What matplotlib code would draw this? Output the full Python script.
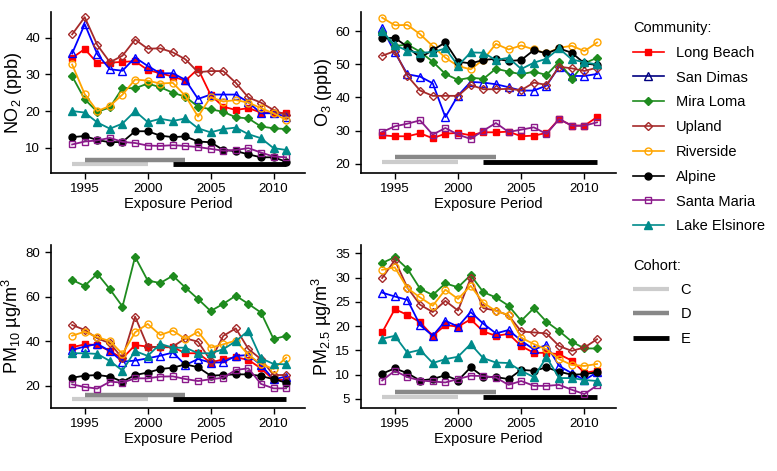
import matplotlib.pyplot as plt
from matplotlib.lines import Line2D

plt.rcParams['font.family'] = ['Liberation Sans', 'DejaVu Sans']
plt.rcParams['mathtext.default'] = 'regular'

years = list(range(1994, 2012))
communities = ["Long Beach", "San Dimas", "Mira Loma", "Upland",
               "Riverside", "Alpine", "Santa Maria", "Lake Elsinore"]

# NO2 (ppb)
no2 = {
    "Long Beach":    [34.5, 36.9, 33.1, 33.2, 33.4, 33.6, 31.2, 30.3, 29.4, 28.3, 31.5, 24.4, 21.2, 20.3, 20.8, 19.6, 19.6, 19.4],
    "San Dimas":     [35.7, 43.7, 35.5, 31.4, 31.0, 34.6, 32.3, 30.3, 30.3, 28.5, 23.3, 24.5, 24.5, 24.5, 22.4, 19.4, 19.4, 18.5],
    "Mira Loma":     [29.5, 23.2, 19.8, 21.0, 26.3, 26.2, 27.5, 26.5, 25.0, 23.9, 21.2, 20.5, 19.8, 18.3, 18.0, 15.8, 15.3, 15.1],
    "Upland":        [40.9, 45.6, 38.0, 33.3, 35.1, 39.5, 37.0, 37.1, 36.0, 34.1, 30.6, 30.9, 30.9, 27.7, 23.7, 22.3, 20.3, 18.9],
    "Riverside":     [32.7, 24.6, 20.0, 21.4, 24.5, 28.6, 28.3, 27.5, 27.7, 24.1, 18.5, 23.8, 22.6, 23.0, 22.3, 20.8, 19.4, 17.6],
    "Alpine":        [12.9, 13.2, 12.1, 11.5, 11.6, 14.5, 14.5, 13.3, 12.9, 13.1, 11.7, 11.5, 9.4, 9.1, 8.2, 7.4, 7.4, 6.2],
    "Santa Maria":   [10.9, 11.7, 12.0, 12.7, 11.6, 11.3, 10.6, 10.5, 10.7, 10.5, 10.2, 9.7, 9.2, 9.4, 9.9, 8.7, 7.6, 7.4],
    "Lake Elsinore": [20.0, 19.6, 16.9, 15.2, 16.6, 20.0, 17.0, 17.9, 17.3, 18.0, 15.3, 14.2, 15.1, 15.5, 13.7, 12.6, 9.9, 9.4],
}

# O3 (ppb)
o3 = {
    "Long Beach":    [28.6, 28.3, 28.3, 29.2, 27.7, 29.1, 29.3, 28.6, 29.5, 29.5, 29.7, 28.3, 28.5, 29.3, 33.5, 31.5, 31.5, 34.1],
    "San Dimas":     [61.0, 53.6, 47.0, 46.3, 44.3, 34.1, 40.6, 44.7, 44.5, 44.0, 43.1, 42.1, 42.1, 43.6, 49.3, 46.5, 46.5, 47.1],
    "Mira Loma":     [59.6, 55.5, 56.0, 53.8, 50.8, 47.1, 45.3, 46.0, 45.6, 48.7, 47.8, 47.0, 47.8, 46.8, 50.8, 45.6, 50.3, 52.0],
    "Upland":        [52.6, 54.0, 46.5, 42.1, 40.5, 40.5, 40.5, 43.8, 42.5, 42.5, 42.6, 42.2, 44.5, 43.8, 49.3, 48.8, 48.0, 49.0],
    "Riverside":     [64.1, 61.8, 61.9, 59.1, 55.5, 52.0, 49.5, 48.5, 51.4, 56.2, 54.5, 55.7, 54.5, 53.3, 55.0, 55.6, 54.0, 56.6],
    "Alpine":        [57.9, 58.0, 55.3, 52.0, 54.3, 56.6, 50.8, 50.3, 51.3, 51.7, 51.0, 51.3, 54.3, 53.3, 54.8, 53.5, 50.3, 49.8],
    "Santa Maria":   [29.6, 31.3, 32.1, 33.1, 28.8, 30.8, 28.8, 27.5, 30.0, 32.3, 29.6, 30.3, 31.0, 29.0, 33.5, 31.5, 31.5, 32.5],
    "Lake Elsinore": [60.0, 55.8, 54.1, 53.5, 53.7, 54.8, 49.6, 53.6, 53.5, 51.3, 52.0, 48.6, 50.5, 51.7, 54.8, 51.5, 50.6, 50.0],
}

# PM10 (ug/m3)
pm10 = {
    "Long Beach":    [37.3, 38.6, 38.3, 35.6, 32.3, 38.3, 37.6, 37.3, 37.3, 34.6, 34.6, 30.4, 31.9, 32.8, 31.6, 27.8, 22.6, 22.6],
    "San Dimas":     [36.1, 37.6, 38.8, 35.6, 30.8, 31.3, 32.3, 33.5, 34.9, 29.3, 32.0, 30.4, 30.5, 33.4, 33.8, 29.3, 22.9, 24.1],
    "Mira Loma":     [67.6, 64.9, 70.4, 63.4, 55.6, 78.0, 67.3, 66.2, 69.5, 64.1, 59.0, 53.6, 56.8, 60.5, 56.8, 52.9, 41.0, 42.4],
    "Upland":        [47.3, 45.1, 41.3, 39.1, 32.3, 51.1, 37.6, 37.3, 37.6, 41.3, 39.8, 31.3, 42.4, 45.8, 36.5, 31.9, 24.8, 24.8],
    "Riverside":     [42.5, 44.3, 41.8, 40.1, 34.3, 44.0, 47.8, 42.8, 44.8, 41.0, 44.3, 37.1, 38.6, 40.3, 33.8, 29.8, 27.5, 32.6],
    "Alpine":        [23.6, 24.5, 24.8, 24.1, 21.8, 24.8, 25.9, 27.5, 28.1, 29.6, 28.3, 24.5, 24.8, 25.1, 25.1, 24.4, 22.9, 21.4],
    "Santa Maria":   [20.6, 19.4, 18.7, 21.8, 21.4, 23.3, 23.3, 24.1, 24.2, 23.0, 22.1, 22.9, 23.6, 27.1, 27.8, 20.8, 18.8, 18.8],
    "Lake Elsinore": [34.6, 34.6, 34.3, 31.1, 26.8, 35.6, 33.4, 38.8, 37.1, 37.1, 34.6, 34.6, 36.4, 40.0, 44.8, 32.3, 29.8, 29.6],
}

# PM2.5 (ug/m3)
pm25 = {
    "Long Beach":    [18.7, 23.5, 22.3, 20.8, 18.0, 20.2, 19.9, 21.4, 18.9, 18.0, 18.4, 15.9, 14.5, 14.5, 14.2, 12.9, 10.4, 10.8],
    "San Dimas":     [26.9, 26.1, 25.4, 20.2, 18.0, 21.1, 19.9, 22.9, 20.5, 18.5, 19.2, 17.0, 15.2, 16.1, 11.8, 10.3, 8.9, 10.5],
    "Mira Loma":     [33.0, 34.2, 31.8, 27.7, 26.4, 28.8, 28.0, 30.5, 27.0, 25.9, 24.2, 21.1, 23.7, 20.9, 19.0, 16.8, 15.4, 15.4],
    "Upland":        [29.9, 33.6, 27.9, 24.4, 22.9, 25.2, 23.2, 29.9, 23.7, 23.2, 22.2, 18.9, 18.7, 18.5, 15.9, 14.9, 15.6, 17.3],
    "Riverside":     [31.6, 32.1, 27.8, 25.9, 24.2, 27.5, 25.6, 28.3, 24.8, 23.1, 22.3, 17.6, 16.3, 15.2, 13.2, 12.0, 11.8, 12.2],
    "Alpine":        [10.2, 11.3, 10.3, 8.8, 9.1, 9.9, 8.8, 11.5, 9.6, 9.5, 9.1, 11.0, 10.8, 11.5, 10.6, 10.0, 10.1, 10.5],
    "Santa Maria":   [8.8, 10.8, 9.5, 8.8, 8.6, 8.4, 9.1, 9.8, 9.7, 9.4, 7.9, 8.7, 7.7, 7.7, 7.9, 6.9, 6.0, 7.8],
    "Lake Elsinore": [17.4, 18.0, 14.5, 15.1, 12.4, 13.2, 13.7, 16.3, 13.4, 12.5, 12.4, 10.8, 9.5, 13.6, 9.3, 9.3, 8.9, 8.7],
}

# cohort exposure windows
cohorts = ["C", "D", "E"]
cohort_start = [1994, 1995, 2002]
cohort_end = [2000, 2003, 2011]

# styling
colors = ['#FF0000', '#0000FF', '#1E8B1E', '#A52A2A', '#FFA500', '#000000', '#8B1A8B', '#008B8B']
legend_colors = ['#FF0000', '#000080', '#1E8B1E', '#A52A2A', '#FFA500', '#000000', '#8B1A8B', '#008B8B']
markers = ['s', '^', 'D', 'D', 'o', 'o', 's', '^']
filled = [True, False, True, False, False, True, False, True]
msizes = [5, 5.5, 4.2, 4.2, 5, 5, 5, 5.5]
cohort_colors = ['#CCCCCC', '#888888', '#000000']
cohort_lw = [3.0, 3.2, 3.5]

panels = [
    (no2, "NO$_2$ (ppb)", [10, 20, 30, 40], (3.2, 47), [5.6, 6.7, 5.6], [0.0653, 0.6333, 0.3273, 0.3412]),
    (o3, "O$_3$ (ppb)", [20, 30, 40, 50, 60], (17.3, 65.8), [20.5, 22.1, 20.5], [0.4642, 0.6333, 0.3286, 0.3412]),
    (pm10, "PM$_{10}$ µg/m$^3$", [20, 40, 60, 80], (10.1, 83.3), [14.0, 15.8, 14.0], [0.0653, 0.1344, 0.3273, 0.3454]),
    (pm25, "PM$_{2.5}$ µg/m$^3$", [5, 10, 15, 20, 25, 30, 35], (3.2, 36.7), [5.4, 6.4, 5.4], [0.4642, 0.1344, 0.3286, 0.3454]),
]

fig = plt.figure(figsize=(7.77, 4.71), dpi=100)

for data, ylabel, yticks, ylim, levels, rect in panels:
    ax = fig.add_axes(rect)
    for i, name in enumerate(cohorts):
        ax.plot([cohort_start[i], cohort_end[i]], [levels[i], levels[i]],
                color=cohort_colors[i], lw=cohort_lw[i], solid_capstyle='butt', zorder=1)
    for i, name in enumerate(communities):
        ax.plot(years, data[name], color=colors[i], lw=1.3, marker=markers[i],
                ms=msizes[i], mec=colors[i], mew=1.0,
                mfc=colors[i] if filled[i] else 'none', zorder=2)
    ax.set_xlim(1992.3, 2012.5)
    ax.set_ylim(*ylim)
    ax.set_xticks([1995, 2000, 2005, 2010])
    ax.set_yticks(yticks)
    ax.spines['top'].set_visible(False)
    ax.spines['right'].set_visible(False)
    ax.spines['left'].set_linewidth(1.2)
    ax.spines['bottom'].set_linewidth(1.2)
    ax.tick_params(labelsize=9.5, length=4, width=1.0, direction='out')
    ax.set_xlabel("Exposure Period", fontsize=10.5, labelpad=1)
    ax.set_ylabel(ylabel, fontsize=13, labelpad=1)

comm_handles = [Line2D([], [], color=legend_colors[i], lw=1.2, marker=markers[i],
                       ms=msizes[i], mec=legend_colors[i],
                       mfc=legend_colors[i] if filled[i] else 'none')
                for i in range(len(communities))]
leg1 = fig.legend(comm_handles, communities, loc='upper left',
                  bbox_to_anchor=(633 / 777, 1 - 21 / 471), frameon=False,
                  title="Community:", alignment='left', fontsize=10.5,
                  title_fontsize=10.5, handlelength=2.1, handletextpad=0.85,
                  labelspacing=0.74, borderpad=0, borderaxespad=0)

coh_handles = [Line2D([], [], color=cohort_colors[i], lw=cohort_lw[i], solid_capstyle='butt')
               for i in range(len(cohorts))]
leg2 = fig.legend(coh_handles, cohorts, loc='upper left',
                  bbox_to_anchor=(633 / 777, 1 - 259 / 471), frameon=False,
                  title="Cohort:", alignment='left', fontsize=10.5,
                  title_fontsize=10.5, handlelength=2.5, handletextpad=0.75,
                  labelspacing=0.7, borderpad=0, borderaxespad=0)

fig.savefig("out.png", dpi=100)
